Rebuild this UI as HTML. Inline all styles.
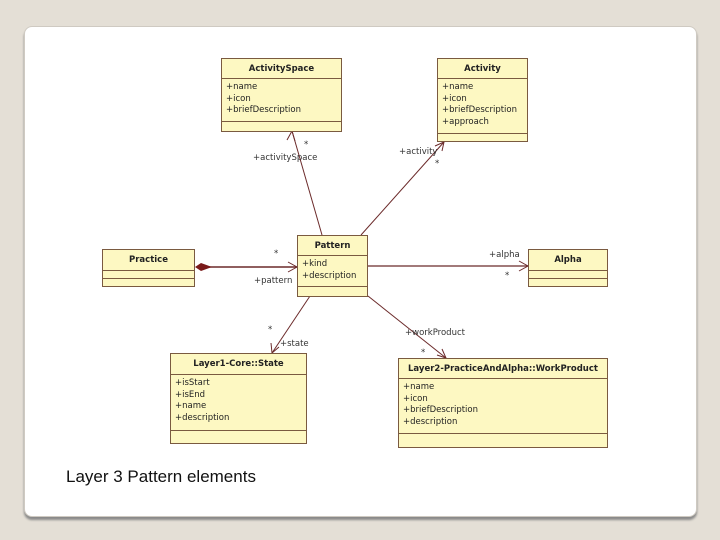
<!DOCTYPE html>
<html><head><meta charset="utf-8"><style>
body{margin:0;width:720px;height:540px;background:#e4dfd6;position:relative;overflow:hidden;font-family:"DejaVu Sans","Liberation Sans",sans-serif}
.card{position:absolute;left:24px;top:26px;width:671px;height:489px;background:#fff;border-radius:8px;box-shadow:0 3px 2px #8a8a8a;border:1px solid #cfcac2}
.b{position:absolute;background:#fdf8c2;border:1px solid #7a5a40;box-sizing:border-box;font-size:8.5px;color:#222}
.h{font-weight:bold;text-align:center;border-bottom:1px solid #7a5a40;box-sizing:border-box}
.a{border-bottom:1px solid #7a5a40;box-sizing:border-box;padding:3px 0 0 4px;line-height:11.5px}
.l{position:absolute;font-size:8.5px;color:#333;white-space:nowrap}
.cap{position:absolute;left:66px;top:467px;font-family:"Liberation Sans",sans-serif;font-size:17px;color:#111}
</style></head><body>
<div class="card"></div>
<svg width="720" height="540" style="position:absolute;left:0;top:0">
<g stroke="#6b2a2a" stroke-width="1" fill="none">
<line x1="322" y1="235" x2="292" y2="131"/><polyline points="287,140 292,131 295,141"/>
<line x1="361" y1="235" x2="444" y2="142"/><polyline points="435,146 444,142 442,151"/>
<line x1="205" y1="267" x2="297" y2="267" stroke-width="1.5"/><polyline points="288,262 297,267 288,272"/>
<line x1="367" y1="266" x2="528" y2="266" stroke-width="1.2"/><polyline points="519,261 528,266 519,271"/>
<line x1="310" y1="296" x2="272" y2="353"/><polyline points="271,343 272,353 279,347"/>
<line x1="368" y1="296" x2="446" y2="358"/><polyline points="437,355 446,358 442,349"/>
</g>
<polygon points="195,267 201,263 212,267 201,271" fill="#7a1a1a"/>
</svg>
<div class="b" style="left:221px;top:58px;width:121px;height:74px"><div class="h" style="height:20px;line-height:20px">ActivitySpace</div><div class="a" style="height:43px">+name<br>+icon<br>+briefDescription</div></div>
<div class="b" style="left:437px;top:58px;width:91px;height:84px"><div class="h" style="height:20px;line-height:20px">Activity</div><div class="a" style="height:55px">+name<br>+icon<br>+briefDescription<br>+approach</div></div>
<div class="b" style="left:297px;top:235px;width:71px;height:62px"><div class="h" style="height:20px;line-height:20px">Pattern</div><div class="a" style="height:31px">+kind<br>+description</div></div>
<div class="b" style="left:102px;top:249px;width:93px;height:38px"><div class="h" style="height:21px;line-height:21px">Practice</div><div class="a" style="height:8px;padding:0"></div></div>
<div class="b" style="left:528px;top:249px;width:80px;height:38px"><div class="h" style="height:21px;line-height:21px">Alpha</div><div class="a" style="height:8px;padding:0"></div></div>
<div class="b" style="left:170px;top:353px;width:137px;height:91px"><div class="h" style="height:21px;line-height:21px">Layer1-Core::State</div><div class="a" style="height:56px">+isStart<br>+isEnd<br>+name<br>+description</div></div>
<div class="b" style="left:398px;top:358px;width:210px;height:90px"><div class="h" style="height:20px;line-height:20px">Layer2-PracticeAndAlpha::WorkProduct</div><div class="a" style="height:55px">+name<br>+icon<br>+briefDescription<br>+description</div></div>
<div class="l" style="left:304px;top:140px">*</div>
<div class="l" style="left:253px;top:153px">+activitySpace</div>
<div class="l" style="left:399px;top:147px">+activity</div>
<div class="l" style="left:435px;top:159px">*</div>
<div class="l" style="left:274px;top:249px">*</div>
<div class="l" style="left:254px;top:276px">+pattern</div>
<div class="l" style="left:489px;top:250px">+alpha</div>
<div class="l" style="left:505px;top:271px">*</div>
<div class="l" style="left:268px;top:325px">*</div>
<div class="l" style="left:280px;top:339px">+state</div>
<div class="l" style="left:405px;top:328px">+workProduct</div>
<div class="l" style="left:421px;top:348px">*</div>
<div class="cap">Layer 3 Pattern elements</div>
</body></html>
